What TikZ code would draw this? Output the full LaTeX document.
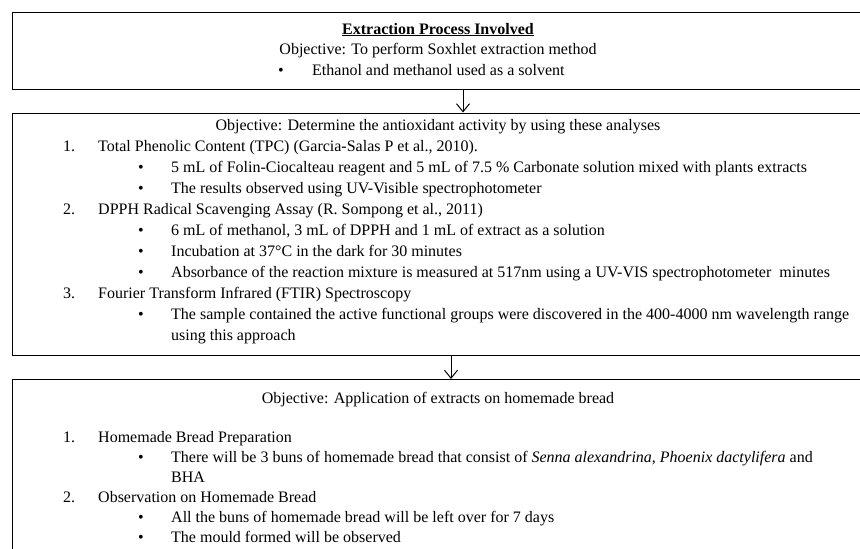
\documentclass[tikz,border=0pt]{standalone}
\usepackage{fontspec}
\setmainfont{Liberation Serif}
\usetikzlibrary{arrows.meta}
\begin{document}
\begin{tikzpicture}[x=1pt,y=-1pt,
  box/.style={draw, line width=1.3pt, anchor=north west, inner sep=0pt, minimum width=870pt},
  txt/.style={anchor=base west, inner sep=0pt, font=\fontsize{16}{18}\selectfont},
  ctr/.style={anchor=base, inner sep=0pt, font=\fontsize{16}{18}\selectfont},
  bul/.style={anchor=base west, inner sep=0pt, font=\fontsize{16}{18}\selectfont},
  arr/.style={line width=1pt, -{Straight Barb[length=8pt,width=13pt]}}]
\useasboundingbox (0,0) rectangle (860,549);
\clip (0,0) rectangle (860,549);
% boxes
\node[box, minimum height=77pt] (b1) at (11.5,12) {};
\node[box, minimum height=242.5pt] (b2) at (11.5,112.5) {};
\node[box, minimum height=200pt] (b3) at (11.5,379) {};
\coordinate (a1) at (463,0);
\coordinate (a2) at (451,0);
\draw[arr] (b1.south -| a1) -- (b2.north -| a1);
\draw[arr] (b2.south -| a2) -- (b3.north -| a2);
% box 1
\node[ctr] (t1) at (438,34) {\textbf{\underline{Extraction Process Involved}}};
\node[ctr] (t2) at (438,54.5) {Objective: To perform Soxhlet extraction method};
\node[bul] (d1) at (278,75) {\textbullet};
\node[txt] (t3) at (312,75) {Ethanol and methanol used as a solvent};
% box 2
\node[ctr] (u1) at (438,130) {Objective: Determine the antioxidant activity by using these analyses};
\node[txt] (n1) at (63,151) {1.};
\node[txt] (u2) at (98,151) {Total Phenolic Content (TPC) (Garcia-Salas P et al., 2010).};
\node[bul] (d2) at (138,172) {\textbullet};
\node[txt] (u3) at (171,172) {5 mL of Folin-Ciocalteau reagent and 5 mL of 7.5 \% Carbonate solution mixed with plants extracts};
\node[bul] (d3) at (138,193) {\textbullet};
\node[txt] (u4) at (171,193) {The results observed using UV-Visible spectrophotometer};
\node[txt] (n2) at (63,214) {2.};
\node[txt] (u5) at (98,214) {DPPH Radical Scavenging Assay (R. Sompong et al., 2011)};
\node[bul] (d4) at (138,235) {\textbullet};
\node[txt] (u6) at (171,235) {6 mL of methanol, 3 mL of DPPH and 1 mL of extract as a solution};
\node[bul] (d5) at (138,256) {\textbullet};
\node[txt] (u7) at (171,256) {Incubation at 37°C in the dark for 30 minutes};
\node[bul] (d6) at (138,277) {\textbullet};
\node[txt] (u8) at (171,277) {Absorbance of the reaction mixture is measured at 517nm using a UV-VIS spectrophotometer\ \ minutes};
\node[txt] (n3) at (63,298) {3.};
\node[txt] (u9) at (98,298) {Fourier Transform Infrared (FTIR) Spectroscopy};
\node[bul] (d7) at (138,319) {\textbullet};
\node[txt] (u10) at (171,319) {The sample contained the active functional groups were discovered in the 400-4000 nm wavelength range};
\node[txt] (u11) at (171,340) {using this approach};
% box 3
\node[ctr] (v1) at (438,403) {Objective: Application of extracts on homemade bread};
\node[txt] (n4) at (63,442) {1.};
\node[txt] (v2) at (98,442) {Homemade Bread Preparation};
\node[bul] (d8) at (138,462) {\textbullet};
\node[txt] (v3) at (171,462) {There will be 3 buns of homemade bread that consist of \textit{Senna alexandrina}, \textit{Phoenix dactylifera} and};
\node[txt] (v4) at (171,482) {BHA};
\node[txt] (n5) at (63,502) {2.};
\node[txt] (v5) at (98,502) {Observation on Homemade Bread};
\node[bul] (d9) at (138,522) {\textbullet};
\node[txt] (v6) at (171,522) {All the buns of homemade bread will be left over for 7 days};
\node[bul] (d10) at (138,542) {\textbullet};
\node[txt] (v7) at (171,542) {The mould formed will be observed};
\end{tikzpicture}
\end{document}
